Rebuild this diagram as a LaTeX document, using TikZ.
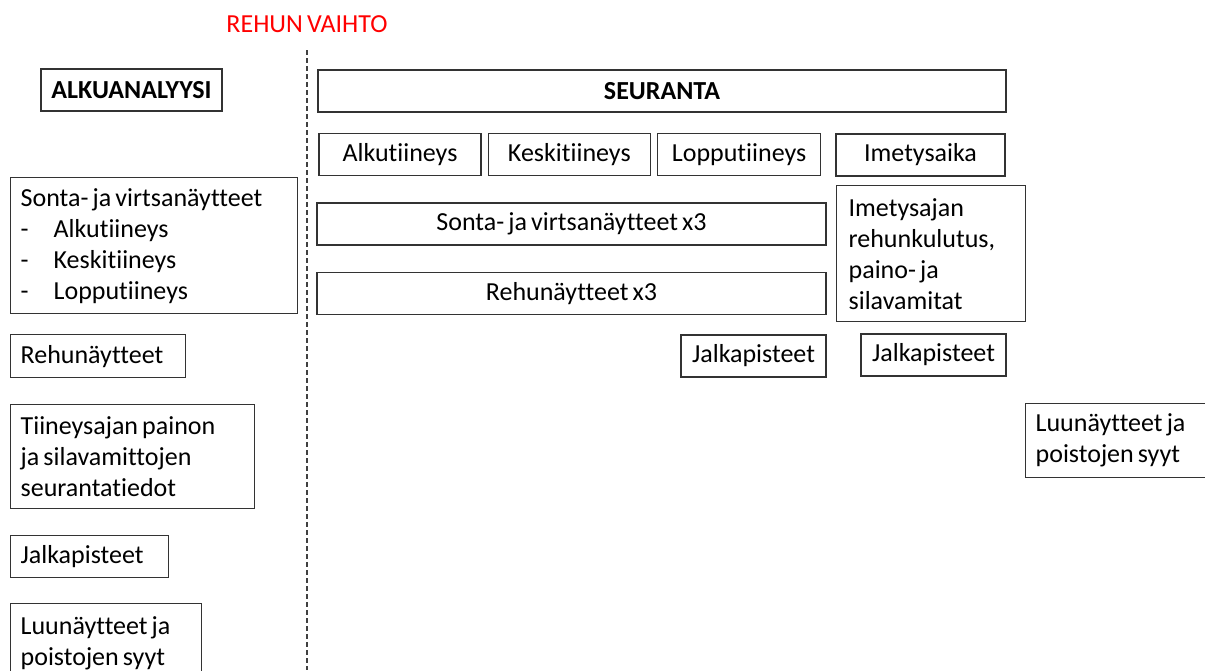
\documentclass[tikz,border=0pt]{standalone}
\usepackage{fontspec}
\setmainfont{Carlito}[Ligatures=NoCommon, WordSpace=0.7]
\usetikzlibrary{positioning}
\tikzset{
box/.style={draw=black!80, line width=1.3pt, inner sep=0pt, font=\fontsize{26}{31}\selectfont},
headbox/.style={box, line width=2pt, font=\fontsize{26}{31}\selectfont\bfseries, minimum height=42pt},
rowbox/.style={box, minimum height=42pt},
textbox/.style={box, align=flush left, anchor=north west, inner xsep=10pt},
divider/.style={draw=black!75, line width=1.5pt, dash pattern=on 5pt off 3pt},
}
\newcommand{\dashitem}[1]{\makebox[33pt][l]{-}#1}

\begin{document}
\begin{tikzpicture}[x=1pt,y=-1pt]

    \useasboundingbox (0,0) rectangle (1205,670);

    % change of feed
    \node[red, font=\fontsize{26}{31}\selectfont] (change) at (307,24) {REHUN VAIHTO};
    \coordinate (divtop) at (307,50);
    \coordinate (divbot) at (307,670);
    \draw[divider] (divtop) -- (divbot);

    % before
    \node[headbox, minimum width=181pt] (alku) at (131.5,90) {ALKUANALYYSI};
    \node[textbox, text width=267pt, minimum height=136pt] (sontaL) at (10,177)
        {Sonta- ja virtsanäytteet\\\dashitem{Alkutiineys}\\\dashitem{Keskitiineys}\\\dashitem{Lopputiineys}};
    \node[textbox, text width=155pt, minimum height=43pt] (rehuL) at (10,334) {Rehunäytteet};
    \node[textbox, text width=224pt, minimum height=104pt] (tiine) at (10,404)
        {Tiineysajan painon\\ja silavamittojen\\seurantatiedot};
    \node[textbox, text width=138pt, minimum height=42pt] (jalkaL) at (10,535) {Jalkapisteet};
    \node[textbox, text width=171pt, minimum height=80pt] (luuL) at (10,603)
        {Luunäytteet ja\\poistojen syyt};

    % after
    \node[headbox, minimum width=688pt] (seur) at (662,91) {SEURANTA};
    \node[rowbox, minimum width=162pt] (alkut) at (400,154.5) {Alkutiineys};
    \node[rowbox, minimum width=162pt, right=6pt of alkut] (keskit) {Keskitiineys};
    \node[rowbox, minimum width=163pt, right=6pt of keskit] (lopput) {Lopputiineys};
    \node[rowbox, minimum width=169pt] (imet) at (920.5,155) {Imetysaika};
    \node[rowbox, minimum width=509pt] (sonta3) at (571.5,224) {Sonta- ja virtsanäytteet x3};
    \node[rowbox, minimum width=509pt, below=26pt of sonta3] (rehu3) {Rehunäytteet x3};
    \node[textbox, inner xsep=12pt, text width=165pt, minimum height=136pt] (imetrehu) at (836,185)
        {Imetysajan\\rehunkulutus,\\paino- ja\\silavamitat};
    \node[rowbox, minimum width=145pt] (jalka1) at (753.5,356) {Jalkapisteet};
    \node[rowbox, minimum width=145pt] (jalka2) at (933.5,355) {Jalkapisteet};
    \node[textbox, text width=170pt, minimum height=74pt] (luuR) at (1025,403)
        {Luunäytteet ja\\poistojen syyt};

\end{tikzpicture}
\end{document}
